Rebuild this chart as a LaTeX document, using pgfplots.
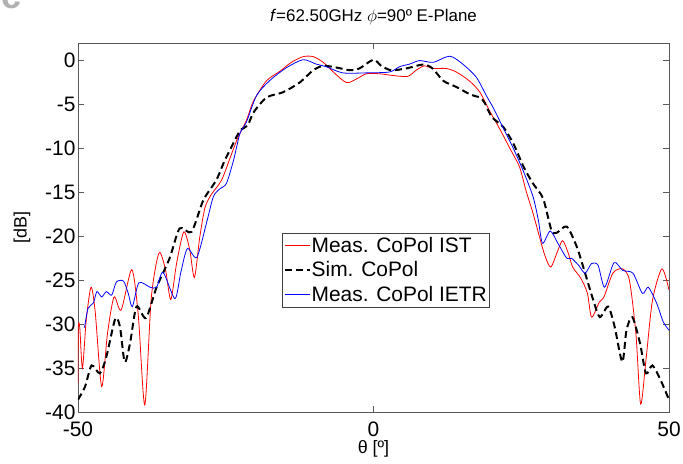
\documentclass[border=0pt]{standalone}
\usepackage{pgfplots}
\pgfplotsset{compat=1.18}
\usepackage{fontspec}
\setmainfont{Liberation Sans}
\begin{document}
\begin{tikzpicture}
\useasboundingbox (-78bp,-52bp) rectangle (605bp,412bp);
\begin{axis}[
  at={(0bp,0bp)}, anchor=south west,
  scale only axis, width=591bp, height=369bp,
  xmin=-50, xmax=50, ymin=-40, ymax=2,
  xtick={-50,0,50}, xticklabels={-50,0,50},
  ytick={-40,-35,-30,-25,-20,-15,-10,-5,0},
  yticklabels={-40,-35,-30,-25,-20,-15,-10,-5,0},
  tick align=inside, major tick length=6bp,
  tick style={gray!70!black, line width=0.6pt},
  axis line style={gray!70!black, line width=0.6pt},
  font=\fontsize{21}{25}\selectfont,
  ticklabel style={font=\fontsize{21}{25}\selectfont},
  xticklabel style={yshift=-6bp},
  yticklabel style={xshift=1bp},
  title={\textit{f}=62.50GHz $\phi$=90º E-Plane},
  title style={at={(0.5,1)}, anchor=base, yshift=16bp, font=\fontsize{17}{20}\selectfont},
  xlabel={θ [º]},
  xlabel style={at={(axis description cs:0.5,0)}, anchor=center, yshift=-37bp, font=\fontsize{18}{21}\selectfont},
  ylabel={[dB]},
  ylabel style={at={(axis description cs:-0.0948,0.5)}, anchor=center, font=\fontsize{18}{21}\selectfont},
  legend cell align=left,
  legend image code/.code={\draw[#1] (0bp,0bp) -- (25bp,0bp);},
  legend style={at={(axis cs:-15.4,-19.6)}, anchor=north west,
    draw=black!75, fill=white, font=\fontsize{21}{25}\selectfont,
    inner xsep=1bp, inner ysep=2bp, row sep=4bp,
    nodes={inner xsep=1bp}},
]
% Meas. CoPol IST
\addplot[red, line width=0.8pt, smooth, tension=0.45] coordinates {
(-50,-36.7) (-49.95,-30.3) (-49.7,-30.4) (-49.25,-35.0) (-48.6,-29.5) (-47.8,-25.8) (-47.1,-28.5) (-46.0,-37.1)
(-45.0,-31.0) (-43.9,-26.9) (-42.7,-28.4) (-40.9,-23.8) (-39.8,-29) (-38.7,-39.2) (-37.6,-27)
(-36.3,-21.9) (-35.2,-23.8) (-34.3,-27.2) (-33.3,-23) (-32.1,-19.5) (-31.1,-21.5) (-30.3,-24.7) (-29.4,-20.1)
(-28.5,-16.7) (-27.4,-15.2) (-25.7,-13.6) (-24.0,-10.6) (-22.9,-8.7) (-21.5,-6.8) (-20.3,-4.6)
(-18.1,-2.3) (-15.8,-1.2) (-13.9,-0.2) (-11.9,0.45) (-10.2,0.45) (-8.5,-0.2) (-6.8,-1.3)
(-4.6,-2.5) (-2.9,-2.1) (-1.2,-1.5) (1.0,-1.5) (3.3,-1.7) (5.8,-1.8) (7.2,-1.1) (8.6,-0.6)
(10.1,-0.9) (12.3,-0.9) (14.0,-1.3) (16.2,-2.3) (18.0,-3.6) (19.7,-5.8) (21.3,-7.7)
(23.0,-9.9) (24.7,-12.1) (25.8,-14.8) (27.0,-17.4) (28.1,-20.1) (29.0,-22.2) (30.0,-23.5)
(31.2,-21.6) (32.0,-20.5) (32.9,-21.8) (33.7,-23.5) (35.1,-24.8) (36.2,-26.5) (36.9,-29.2) (38.2,-27.5)
(39.0,-26.9) (40.5,-24.2) (42.1,-23.7) (43.3,-25.0) (44.4,-31.1) (45.2,-39.1) (46.1,-34.1)
(47.2,-27.3) (48.8,-23.7) (50,-26.1)
};
\addlegendentry{Meas. CoPol IST}
% Sim. CoPol
\addplot[black, line width=2pt, dash pattern=on 7pt off 4pt, smooth, tension=0.45] coordinates {
(-50,-38.6) (-48.8,-37.1) (-47.7,-34.7) (-46.3,-35.6) (-45.2,-33.7) (-43.7,-29.4) (-42.9,-30.3)
(-42.1,-34.3) (-41.2,-32.2) (-40.1,-28.0) (-38.5,-29.3) (-36.7,-25.8) (-34.5,-22.5) (-32.8,-19.1)
(-30.8,-19.5) (-28.8,-15.9) (-26.6,-13.6) (-25.2,-11.4) (-24.3,-10.2) (-22.6,-8.0) (-21.3,-7.4)
(-20.3,-5.9) (-18.1,-4.2) (-15.3,-3.6) (-12.5,-2.5) (-10.2,-1.1) (-8.5,-0.6) (-6.2,-0.8)
(-4.0,-1.1) (-2.4,-0.9) (0,0.1) (1.3,-0.6) (3.0,-1.1) (5.5,-0.9) (8.4,-0.45) (10.0,-0.9)
(11.8,-2.3) (14.0,-3.0) (16.5,-3.9) (18.0,-4.2) (18.8,-4.8) (20.0,-6.4) (22.0,-7.6) (23.7,-9.5)
(25.4,-12.1) (27.0,-14.0) (28.7,-15.7) (30.1,-19.3) (31.0,-19.6) (32.7,-18.9) (34.4,-21.2)
(35.8,-24.2) (37.2,-27.3) (38.3,-29.2) (39.7,-28.0) (40.8,-30.3) (42.1,-34.3) (42.8,-30.7)
(43.8,-29.2) (45.1,-32.2) (46.1,-35.6) (47.2,-34.7) (48.6,-36.4) (50,-38.6)
};
\addlegendentry{Sim. CoPol}
% Meas. CoPol IETR
\addplot[blue, line width=0.8pt, smooth, tension=0.45] coordinates {
(-48.9,-30.4) (-48.3,-28.2) (-47.4,-27.6) (-46.8,-26.3) (-46.0,-26.9) (-45.2,-26.3) (-44.3,-26.7)
(-43.5,-25.2) (-42.3,-25.1) (-41.5,-26.5) (-40.8,-28.0) (-39.7,-25.3) (-37.8,-25.8) (-36.7,-25.8)
(-35.6,-24.1) (-33.6,-27.1) (-32.6,-24.1) (-31.5,-21.4) (-29.9,-22.4) (-28.3,-18.6) (-27.1,-15.5)
(-26.0,-14.6) (-24.9,-14.0) (-23.7,-11.4) (-22.6,-8.3) (-21.5,-7.0) (-19.8,-4.0) (-17.6,-2.3)
(-14.7,-0.8) (-11.9,0.1) (-9.7,-0.4) (-8.0,-0.7) (-5.2,-1.4) (-1.2,-1.4) (2.7,-1.3) (4.4,-0.7)
(6.1,-0.4) (7.8,0) (10.1,-0.2) (12.9,0.5) (15.1,-0.4) (17.4,-1.9) (19.1,-4.0) (20.2,-5.3)
(21.9,-7.6) (23.6,-9.9) (25.3,-12.5) (27.0,-15.5) (27.9,-18.2) (28.6,-20.8) (29.9,-19.4)
(31.2,-20.8) (32.7,-22.5) (33.5,-22.5) (34.7,-23.3) (35.8,-24.2) (36.9,-23.1) (38.0,-23.3)
(39.1,-25.8) (40.7,-23.0) (42.2,-23.9) (43.9,-24.2) (45.5,-26.5) (46.5,-25.8) (47.9,-27.6)
(49.0,-29.7) (50,-30.7)
};
\addlegendentry{Meas. CoPol IETR}
\end{axis}
\node[anchor=base west, text=gray!60, font=\fontsize{36}{40}\selectfont\bfseries, inner sep=0pt] at (-77bp,403bp) {c};
\end{tikzpicture}
\end{document}
